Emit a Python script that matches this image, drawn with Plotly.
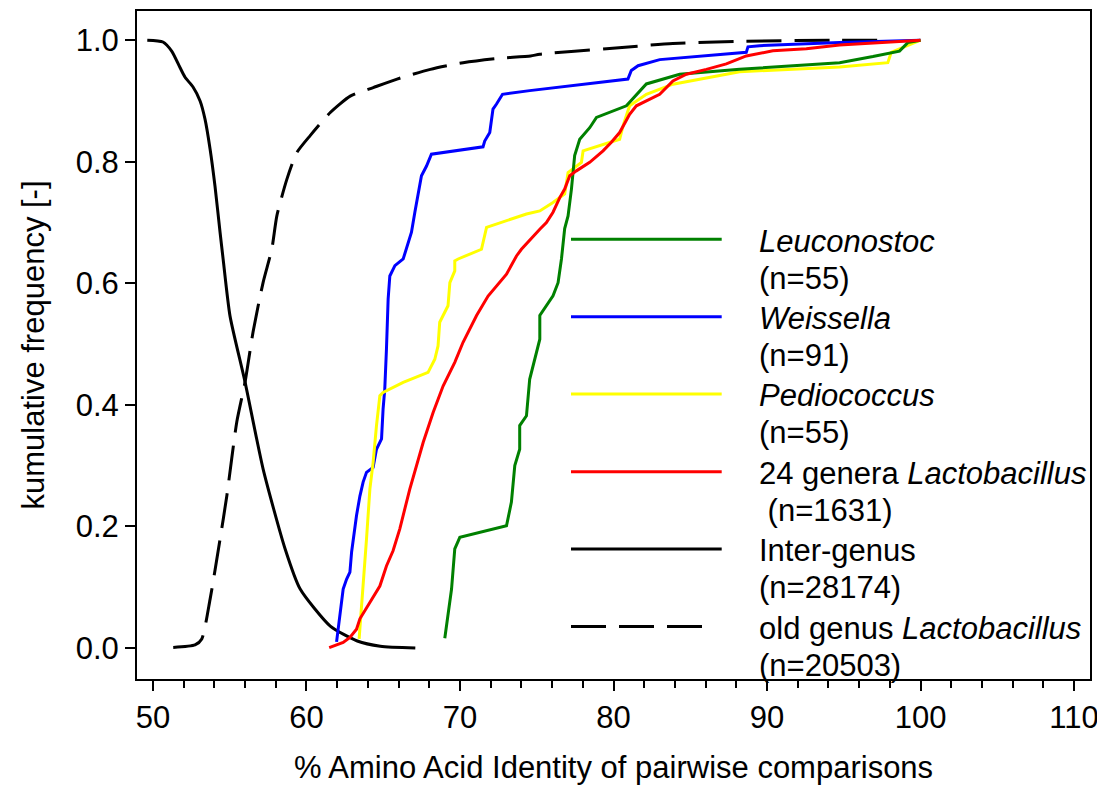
import plotly.graph_objects as go

# ---- data ----
inter_x = [49.63, 50.65, 51.22, 51.76, 52.09, 52.61, 53.07, 53.39, 53.72, 54.04, 54.37, 54.57,
           55.02, 56.0, 57.18, 58.61, 59.59, 61.55, 63.31, 64.81, 67.09]
inter_y = [1.0, 0.997, 0.982, 0.955, 0.939, 0.923, 0.900, 0.870, 0.821, 0.760, 0.684, 0.640,
           0.546, 0.4375, 0.294, 0.163, 0.097, 0.036, 0.0115, 0.003, 0.0]

old_x = [51.32, 52.74, 53.18, 53.72, 54.37, 54.81, 55.46, 56.0, 56.52, 57.18, 57.74, 58.07,
         58.72, 59.37, 60.24, 61.55, 62.85, 64.35, 65.9, 68.07, 70.2, 72.4, 74.6, 75.2,
         79.54, 83.87, 88.2, 94.73, 98.0]
old_y = [0.001, 0.005, 0.015, 0.08, 0.179, 0.25, 0.372, 0.4375, 0.52, 0.602, 0.656, 0.711,
         0.771, 0.815, 0.843, 0.881, 0.908, 0.922, 0.936, 0.952, 0.963, 0.970, 0.974, 0.977,
         0.986, 0.9945, 0.998, 1.0, 1.0]

weis_x = [61.96, 62.06, 62.28, 62.39, 62.61, 62.83, 62.94, 63.26, 63.48, 63.69, 63.91, 64.34,
          64.56, 64.89, 64.99, 65.10, 65.21, 65.32, 65.43, 65.76, 66.30, 66.84, 67.06, 67.27,
          67.49, 67.82, 68.14, 71.50, 71.61, 71.94, 72.15, 72.38, 72.77, 74.54, 80.94, 81.16,
          81.60, 83.01, 88.65, 88.76, 89.52, 94.73, 100.0]
weis_y = [0.010, 0.031, 0.070, 0.097, 0.113, 0.125, 0.158, 0.218, 0.250, 0.273, 0.289, 0.297,
          0.327, 0.344, 0.393, 0.426, 0.492, 0.574, 0.612, 0.629, 0.640, 0.684, 0.717, 0.744,
          0.777, 0.793, 0.8125, 0.8245, 0.834, 0.848, 0.8865, 0.895, 0.911, 0.917, 0.936, 0.950,
          0.958, 0.968, 0.980, 0.989, 0.991, 0.996, 1.0]

pedi_x = [63.43, 63.69, 63.91, 64.13, 64.34, 64.56, 64.78, 64.99, 66.30, 67.92, 68.36, 68.57,
          68.68, 68.90, 69.22, 69.34, 69.66, 69.66, 69.88, 71.40, 71.73, 74.33, 75.20, 76.06,
          76.82, 77.04, 77.91, 78.02, 80.40, 80.62, 81.05, 82.14, 83.87, 88.22, 94.73, 97.87,
          98.09, 100.0]
pedi_y = [0.015, 0.097, 0.179, 0.2615, 0.305, 0.366, 0.415, 0.4205, 0.437, 0.4535, 0.475, 0.497,
          0.536, 0.547, 0.563, 0.601, 0.6205, 0.637, 0.640, 0.656, 0.692, 0.714, 0.719, 0.733,
          0.747, 0.782, 0.799, 0.818, 0.837, 0.859, 0.892, 0.911, 0.9276, 0.948, 0.956, 0.963,
          0.980, 1.0]

leuc_x = [69.01, 69.22, 69.45, 69.66, 69.99, 73.03, 73.35, 73.57, 73.89, 73.89, 74.33, 74.54,
          75.2, 75.2, 76.06, 76.39, 76.61, 76.82, 77.04, 77.26, 77.47, 77.80, 78.45, 78.89,
          80.84, 82.14, 84.31, 88.22, 94.73, 96.9, 98.63, 99.17, 100.0]
leuc_y = [0.016, 0.053, 0.097, 0.163, 0.182, 0.201, 0.240, 0.300, 0.327, 0.366, 0.382, 0.442,
          0.508, 0.547, 0.5795, 0.601, 0.640, 0.690, 0.711, 0.755, 0.810, 0.837, 0.856, 0.873,
          0.892, 0.928, 0.944, 0.952, 0.963, 0.973, 0.982, 0.996, 1.0]

lact_x = [61.48, 62.39, 62.83, 63.26, 63.48, 64.13, 64.78, 65.21, 65.64, 66.08, 66.73, 67.60,
          68.25, 68.90, 69.66, 70.20, 71.08, 71.83, 72.38, 73.03, 73.68, 74.0, 75.2, 75.63,
          76.06, 76.5, 76.82, 77.15, 77.58, 78.45, 79.32, 79.86, 80.40, 81.05, 81.49, 82.36,
          83.01, 83.87, 84.75, 86.05, 87.35, 88.65, 90.38, 92.56, 94.73, 100.0]
lact_y = [0.0005, 0.009, 0.0175, 0.031, 0.048, 0.075, 0.102, 0.135, 0.160, 0.196, 0.2615, 0.338,
          0.3875, 0.431, 0.470, 0.503, 0.547, 0.579, 0.596, 0.615, 0.645, 0.656, 0.689, 0.700,
          0.717, 0.741, 0.755, 0.777, 0.785, 0.799, 0.818, 0.832, 0.848, 0.878, 0.892, 0.903,
          0.911, 0.933, 0.944, 0.952, 0.961, 0.974, 0.9825, 0.986, 0.992, 1.0]

series_names = ["Leuconostoc", "Weissella", "Pediococcus", "24 genera Lactobacillus",
                "Inter-genus", "old genus Lactobacillus"]
legend_line1 = ["<i>Leuconostoc</i>", "<i>Weissella</i>", "<i>Pediococcus</i>",
                "24 genera <i>Lactobacillus</i>", "Inter-genus", "old genus <i>Lactobacillus</i>"]
legend_line2 = ["(n=55)", "(n=91)", "(n=55)", "\u00a0(n=1631)", "(n=28174)", "(n=20503)"]

x_ticks = [50, 60, 70, 80, 90, 100, 110]
y_ticks = [0.0, 0.2, 0.4, 0.6, 0.8, 1.0]

# ---- styling ----
FONT = "Liberation Sans, Arial, sans-serif"
FS = 31
colors = ["#008000", "#0000FF", "#FFFF00", "#FF0000", "#000000", "#000000"]
dashes = ["solid", "solid", "solid", "solid", "solid", "35px,13px"]
shapes_ = ["linear", "linear", "linear", "linear", "spline", "spline"]
xs = [leuc_x, weis_x, pedi_x, lact_x, inter_x, old_x]
ys = [leuc_y, weis_y, pedi_y, lact_y, inter_y, old_y]

# page body has an 8px margin; compensate so the plot area lands at 137..1090 x 11..679
OFF = 8
W, H = 1105 - OFF, 787 - OFF
ML, MR, MT, MB = 137 - OFF, 15, 11 - OFF, 108
plot_w = W - ML - MR
plot_h = H - MT - MB

fig = go.Figure()
order = [4, 5, 1, 2, 0, 3]
for i in order:
    fig.add_trace(go.Scatter(x=xs[i], y=ys[i], mode="lines", name=series_names[i],
                             line=dict(color=colors[i], width=3, dash=dashes[i],
                                       shape=shapes_[i], smoothing=0.6),
                             showlegend=False))

def px_to_paper_x(px):
    return (px - OFF - ML) / plot_w

def px_to_paper_y(py):
    return (H + OFF - MB - py) / plot_h

legend_y_px = [239.3, 316.7, 394.0, 471.7, 549.0, 626.5]
for i, ly in enumerate(legend_y_px):
    x_end = 707 if i == 5 else 721.7
    fig.add_shape(type="line", xref="paper", yref="paper",
                  x0=px_to_paper_x(571), x1=px_to_paper_x(x_end),
                  y0=px_to_paper_y(ly), y1=px_to_paper_y(ly),
                  line=dict(color=colors[i], width=3, dash=dashes[i]))
    fig.add_annotation(xref="paper", yref="paper", x=px_to_paper_x(757),
                       y=px_to_paper_y(ly + 1.7), xanchor="left", yanchor="middle",
                       text=legend_line1[i], showarrow=False,
                       font=dict(family=FONT, size=FS, color="black"))
    fig.add_annotation(xref="paper", yref="paper", x=px_to_paper_x(757),
                       y=px_to_paper_y(ly + 38.7), xanchor="left", yanchor="middle",
                       text=legend_line2[i], showarrow=False,
                       font=dict(family=FONT, size=FS, color="black"))

axis_common = dict(showline=True, linecolor="black", linewidth=2, mirror=True,
                   ticks="outside", ticklen=10, tickwidth=2, tickcolor="black",
                   showgrid=False, zeroline=False,
                   tickfont=dict(family=FONT, size=FS, color="black"))

fig.update_xaxes(range=[48.96, 111.04], tickvals=x_ticks, ticktext=[str(v) for v in x_ticks],
                 minor=dict(ticks="outside", dtick=2, tick0=50, ticklen=7, tickwidth=2,
                            tickcolor="black", showgrid=False),
                 title=dict(text="% Amino Acid Identity of pairwise comparisons",
                            font=dict(family=FONT, size=FS, color="black"), standoff=22),
                 **axis_common)
fig.update_yaxes(range=[-0.051, 1.048], tickvals=y_ticks, ticktext=[f"{v:.1f}" for v in y_ticks],
                 title=dict(text="kumulative frequency [-]",
                            font=dict(family=FONT, size=FS, color="black"), standoff=22),
                 **axis_common)

fig.update_layout(width=W, height=H, margin=dict(l=ML, r=MR, t=MT, b=MB, autoexpand=False),
                  paper_bgcolor="white", plot_bgcolor="white",
                  font=dict(family=FONT, size=FS, color="black"), showlegend=False)

fig.write_html("out.html")
